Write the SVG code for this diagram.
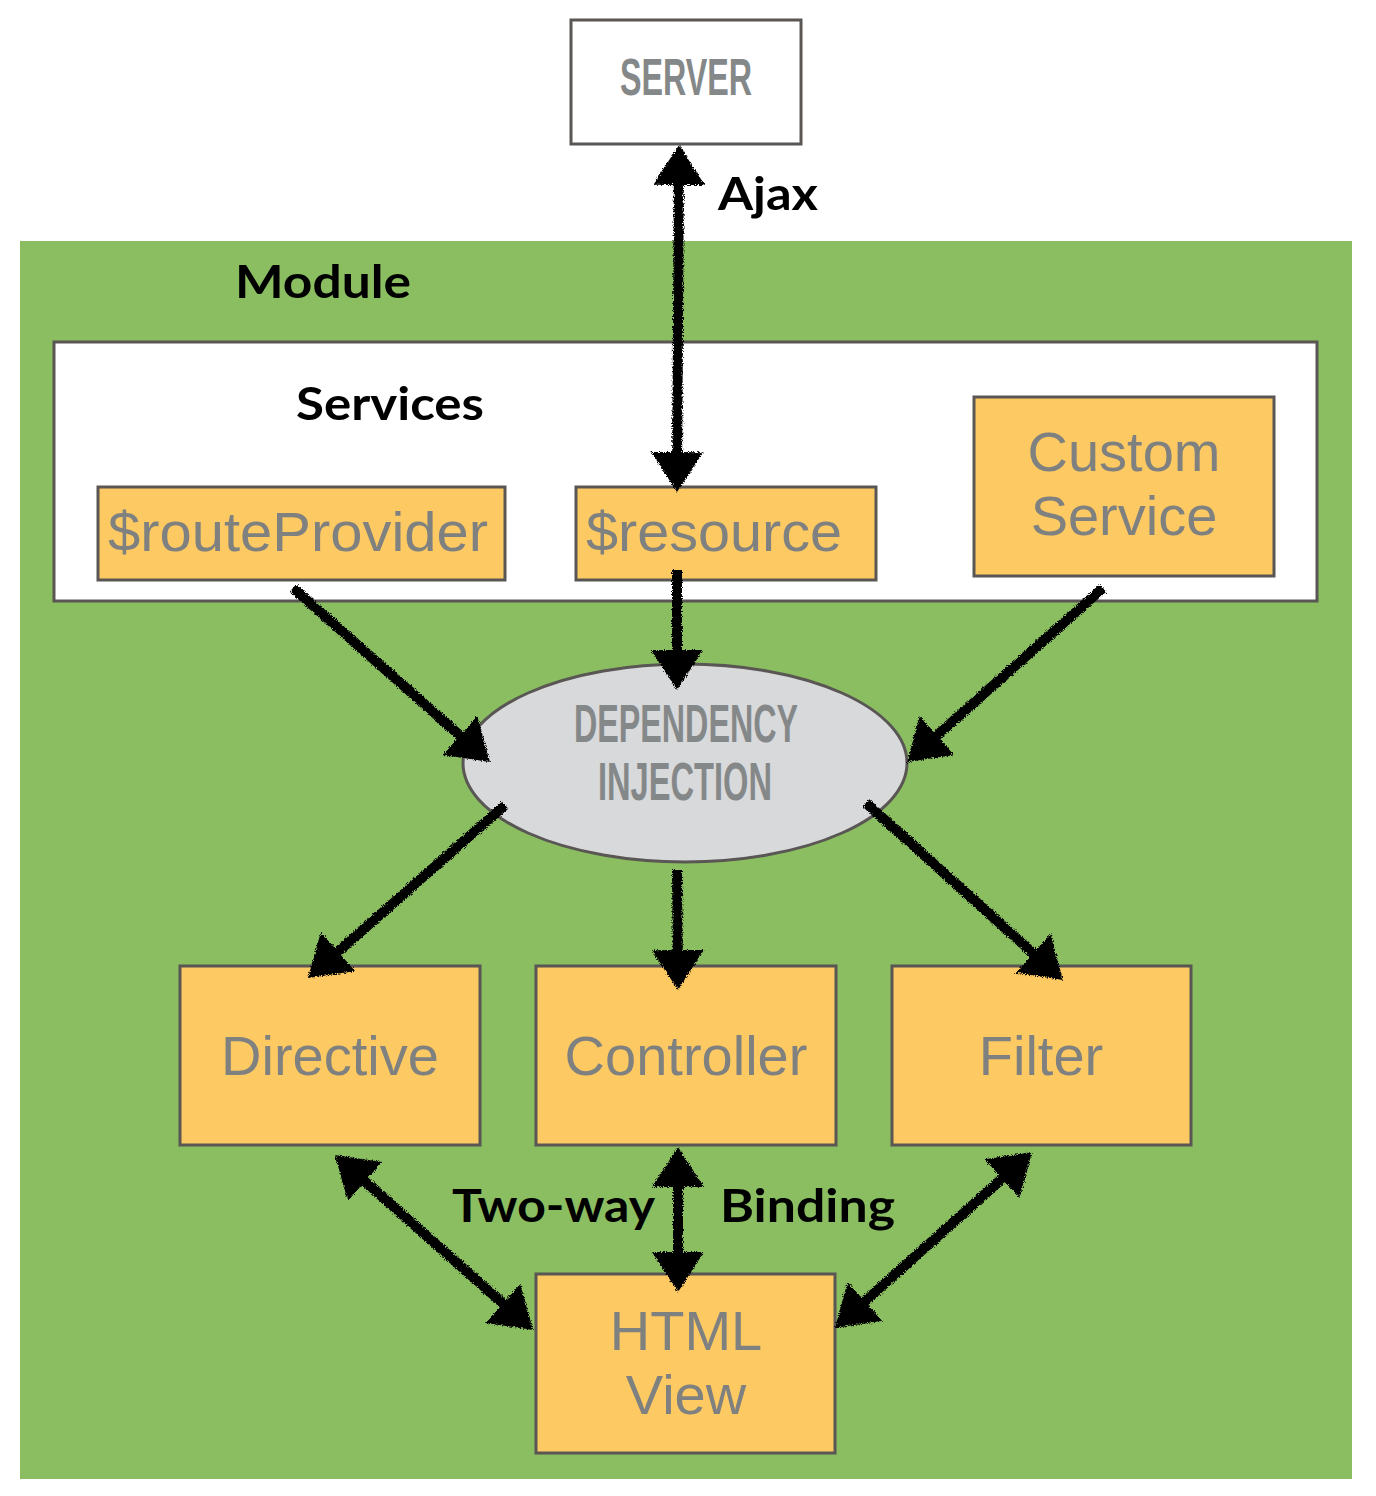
<svg xmlns="http://www.w3.org/2000/svg" width="1376" height="1496" viewBox="0 0 1376 1496">
<style>
.box{fill:#fcc962;stroke:#595654;stroke-width:3}
.lbl{font-family:"Liberation Sans",Arial,sans-serif;font-size:56px;fill:#7f8080}
.cond{font-family:"Liberation Sans",Arial,sans-serif;font-weight:bold;fill:#858889}
.hd{font-family:Lato,"Noto Sans",sans-serif;font-weight:bold;font-size:46px;fill:#000}
.arr{fill:none;stroke:#000;stroke-width:10;marker-end:url(#ah)}
.arr2{fill:none;stroke:#000;stroke-width:10;marker-start:url(#ah);marker-end:url(#ah)}
</style>
<defs>
<marker id="ah" markerUnits="userSpaceOnUse" viewBox="0 0 40 52" markerWidth="40" markerHeight="52" refX="32" refY="26" orient="auto-start-reverse">
<path d="M0,0 L40,26 L0,52 Z" fill="#000"/>
</marker>
<filter id="rough" x="-10%" y="-10%" width="120%" height="120%">
<feTurbulence type="fractalNoise" baseFrequency="0.9" numOctaves="2" seed="3" result="n"/>
<feDisplacementMap in="SourceGraphic" in2="n" scale="5" xChannelSelector="R" yChannelSelector="G"/>
</filter>
</defs>
<rect width="1376" height="1496" fill="#fff"/>
<g id="module">
<rect x="20" y="241" width="1332" height="1238" fill="#8bbd61"/>
<text class="hd" x="235" y="298" textLength="176" lengthAdjust="spacingAndGlyphs">Module</text>
</g>
<g id="server">
<rect x="571" y="20" width="230" height="124" fill="#fff" stroke="#595654" stroke-width="3"/>
<text class="cond" x="620" y="95" font-size="52" textLength="132" lengthAdjust="spacingAndGlyphs">SERVER</text>
</g>
<text class="hd" x="718" y="210" textLength="100" lengthAdjust="spacingAndGlyphs">Ajax</text>
<g id="services">
<rect x="54" y="342" width="1263" height="259" fill="#fff" stroke="#595654" stroke-width="3"/>
<text class="hd" x="296" y="420" textLength="188" lengthAdjust="spacingAndGlyphs">Services</text>
</g>
<g id="routeProvider">
<rect class="box" x="98" y="487" width="407" height="93"/>
<text class="lbl" x="108" y="551" textLength="380" lengthAdjust="spacingAndGlyphs">$routeProvider</text>
</g>
<g id="resource">
<rect class="box" x="576" y="487" width="300" height="93"/>
<text class="lbl" x="586" y="551" textLength="256" lengthAdjust="spacingAndGlyphs">$resource</text>
</g>
<g id="customService">
<rect class="box" x="974" y="397" width="300" height="179"/>
<text class="lbl" x="1124" y="471" text-anchor="middle">Custom</text>
<text class="lbl" x="1124" y="535" text-anchor="middle">Service</text>
</g>
<g id="di">
<ellipse cx="685" cy="763" rx="222" ry="99" fill="#d8d9db" stroke="#595654" stroke-width="3"/>
<text class="cond" x="574" y="742" font-size="54" textLength="224" lengthAdjust="spacingAndGlyphs">DEPENDENCY</text>
<text class="cond" x="598" y="800" font-size="54" textLength="174" lengthAdjust="spacingAndGlyphs">INJECTION</text>
</g>
<g id="directive">
<rect class="box" x="180" y="966" width="300" height="179"/>
<text class="lbl" x="330" y="1075" text-anchor="middle">Directive</text>
</g>
<g id="controller">
<rect class="box" x="536" y="966" width="300" height="179"/>
<text class="lbl" x="686" y="1075" text-anchor="middle">Controller</text>
</g>
<g id="filter">
<rect class="box" x="892" y="966" width="299" height="179"/>
<text class="lbl" x="1041" y="1075" text-anchor="middle">Filter</text>
</g>
<g id="htmlView">
<rect class="box" x="536" y="1274" width="299" height="179"/>
<text class="lbl" x="686" y="1350" text-anchor="middle">HTML</text>
<text class="lbl" x="686" y="1414" text-anchor="middle">View</text>
</g>
<text class="hd" x="452" y="1222" textLength="203" lengthAdjust="spacingAndGlyphs">Two-way</text>
<text class="hd" x="720" y="1222" textLength="175" lengthAdjust="spacingAndGlyphs">Binding</text>
<g id="connectors" filter="url(#rough)">
<path class="arr2" d="M679,153 L677,484"/>
<path class="arr" d="M677,570 L677,682"/>
<path class="arr" d="M293,588 L484,756.7"/>
<path class="arr" d="M1103,588 L913,756.7"/>
<path class="arr" d="M505,805 L314,972.7"/>
<path class="arr" d="M677,870 L678,982"/>
<path class="arr" d="M866,803 L1057,974.7"/>
<path class="arr2" d="M341,1160.3 L527,1324.7"/>
<path class="arr2" d="M678,1155 L678,1284"/>
<path class="arr2" d="M1026,1157.3 L841,1322.7"/>
</g>
</svg>
